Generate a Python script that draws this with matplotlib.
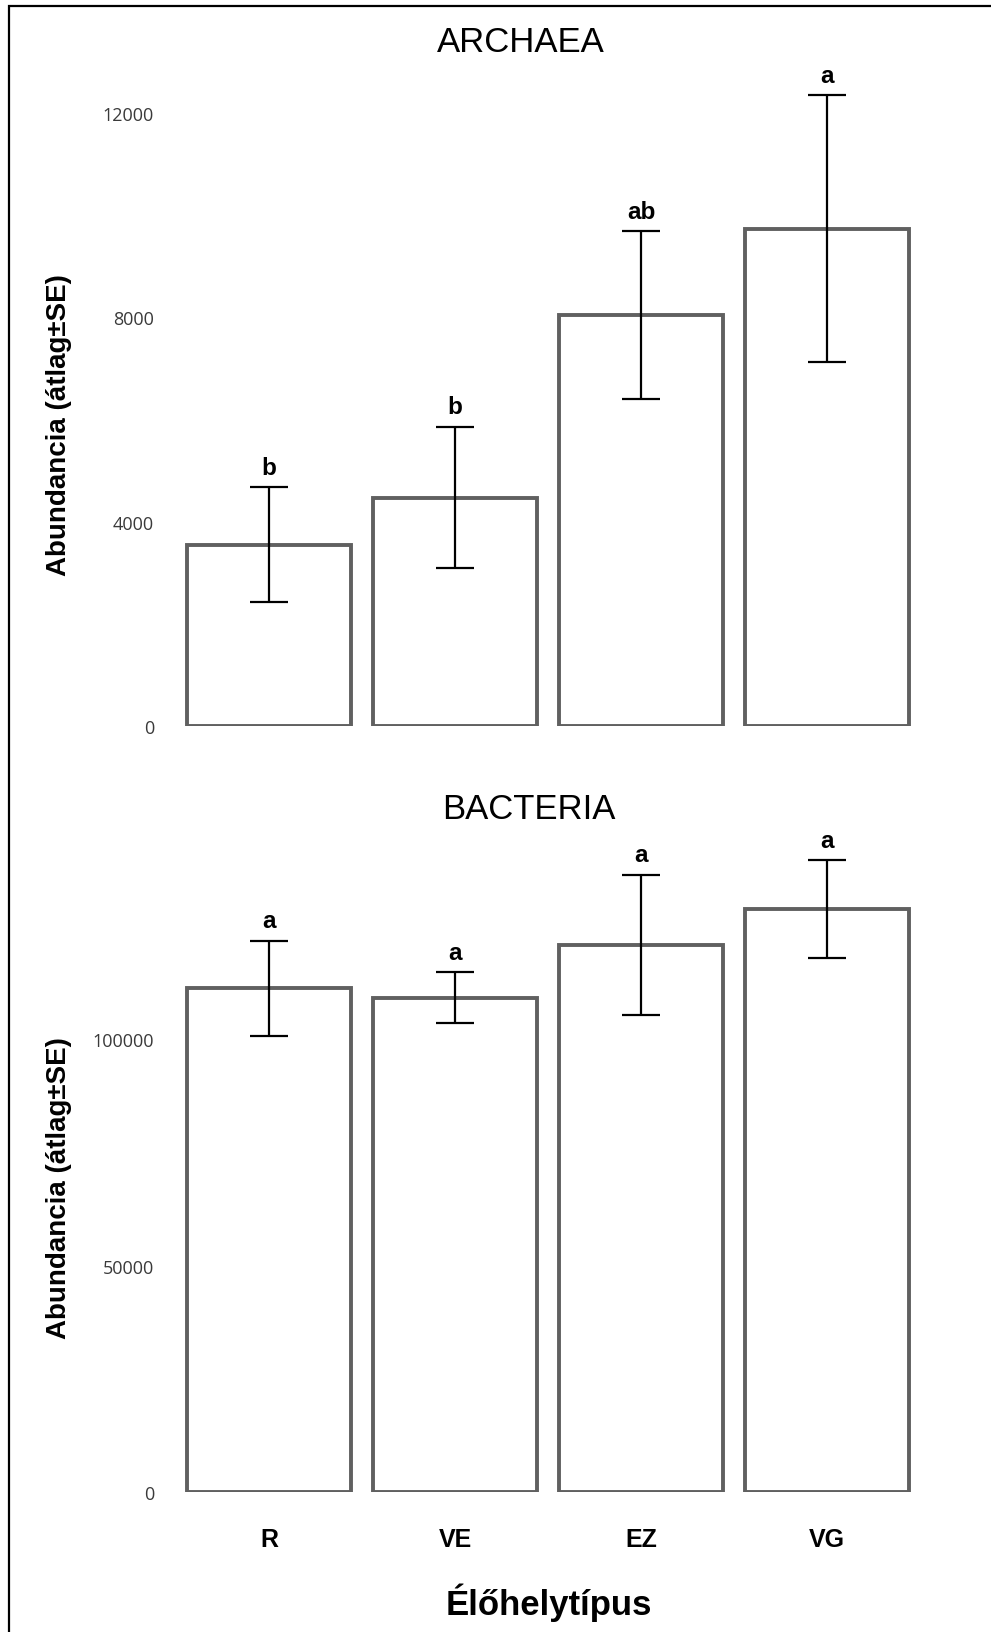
import matplotlib
matplotlib.use("Agg")
import matplotlib.pyplot as plt
from matplotlib.patches import Rectangle

# ---- data ----
categories = ["R", "VE", "EZ", "VG"]
archaea_mean = [3550, 4470, 8050, 9740]
archaea_se = [1130, 1390, 1640, 2620]
archaea_letters = ["b", "b", "ab", "a"]
bacteria_mean = [111200, 109100, 120800, 128700]
bacteria_se = [10500, 5650, 15450, 10750]
bacteria_letters = ["a", "a", "a", "a"]
archaea_ticks = [0, 4000, 8000, 12000]
bacteria_ticks = [0, 50000, 100000]

W, H = 991, 1633
fig = plt.figure(figsize=(W / 100, H / 100), dpi=100)
fig.patch.set_facecolor("white")

SANS = ["Liberation Sans", "DejaVu Sans"]
TICKF = ["Open Sans", "DejaVu Sans"]

# axes geometry (pixels)
ax_left_px, ax_right_px = 165, 950
unit = 186.0
x0c = 269.0
xlim = (-(x0c - ax_left_px) / unit, 3 + (ax_right_px - (x0c + 3 * unit)) / unit)


def make_axes(bottom_px, top_px):
    return fig.add_axes([ax_left_px / W, 1 - bottom_px / H,
                         (ax_right_px - ax_left_px) / W, (bottom_px - top_px) / H])


def draw(ax, means, ses, letters, ticks, ymax):
    x = list(range(len(categories)))
    ax.bar(x, means, width=0.88, facecolor="white", edgecolor="#606060",
           linewidth=2.8, zorder=2)
    ax.errorbar(x, means, yerr=ses, fmt="none", ecolor="black",
                elinewidth=1.6, capsize=13.5, capthick=1.6, zorder=3)
    for xi, m, s, lab in zip(x, means, ses, letters):
        ax.annotate(lab, (xi, m + s), xytext=(0, 9.5), textcoords="offset points",
                    ha="center", va="baseline", fontsize=17.5, fontweight="bold",
                    family=SANS)
    ax.set_xlim(*xlim)
    ax.set_ylim(0, ymax)
    ax.set_yticks(ticks)
    ax.set_yticklabels([str(t) for t in ticks], family=TICKF, fontsize=13,
                       color="#3a3a3a")
    ax.tick_params(axis="y", length=0, pad=8)
    ax.set_xticks(x)
    for s in ax.spines.values():
        s.set_visible(False)
    ax.patch.set_alpha(0)


# top panel
top_bottom, top_top = 726.7, 60.0
ax1 = make_axes(top_bottom, top_top)
draw(ax1, archaea_mean, archaea_se, archaea_letters, archaea_ticks,
     (top_bottom - top_top) / 0.05104)
ax1.set_xticklabels([])
ax1.tick_params(axis="x", length=0)

# bottom panel
bot_bottom, bot_top = 1493.3, 830.0
ax2 = make_axes(bot_bottom, bot_top)
draw(ax2, bacteria_mean, bacteria_se, bacteria_letters, bacteria_ticks,
     (bot_bottom - bot_top) / 0.004533)
ax2.set_xticklabels(categories, family=SANS, fontsize=18, fontweight="bold")
ax2.tick_params(axis="x", length=0, pad=25)

# titles
fig.text(521 / W, 1 - 42 / H, "ARCHAEA", ha="center", va="center",
         fontsize=25, family=SANS)
fig.text(529 / W, 1 - 810 / H, "BACTERIA", ha="center", va="center",
         fontsize=25, family=SANS)

# y labels
for yc in (425, 1188):
    fig.text(59 / W, 1 - yc / H, "Abundancia (átlag±SE)", rotation=90,
             ha="center", va="center", fontsize=20, fontweight="bold", family=SANS)

# x label
fig.text(549 / W, 1 - 1603 / H, "Élőhelytípus", ha="center", va="center",
         fontsize=25, fontweight="bold", family=SANS)

# outer frame
fig.patches.append(Rectangle((9 / W, -0.02), 1.05, 1 - 7 / H + 0.02,
                             transform=fig.transFigure, fill=False,
                             edgecolor="black", linewidth=1.6, clip_on=False))

fig.savefig("out.png", dpi=100)
